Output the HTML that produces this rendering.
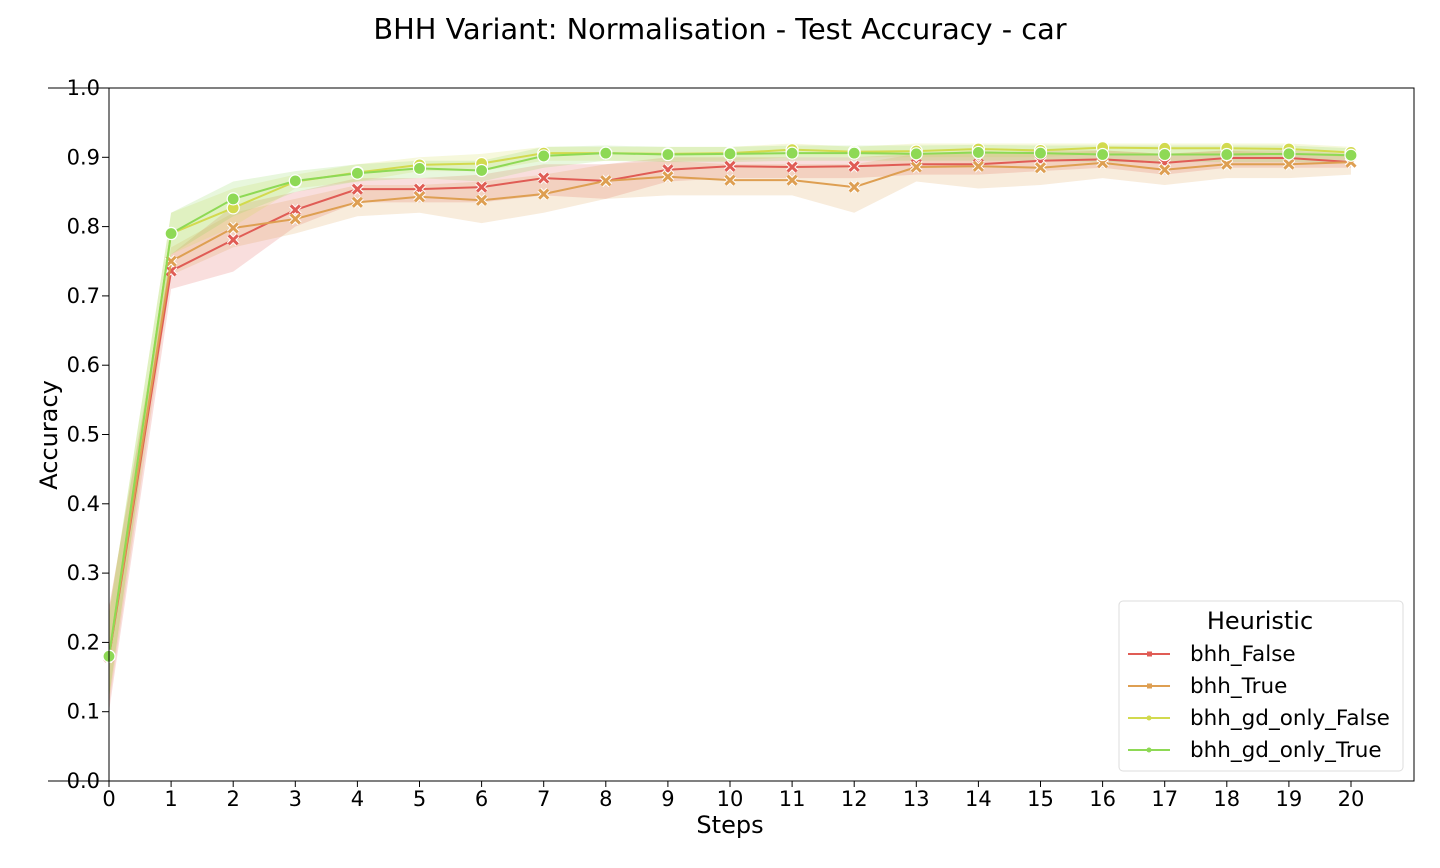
<!DOCTYPE html>
<html><head><meta charset="utf-8"><style>
body{margin:0;background:#fff;font-family:"DejaVu Sans",sans-serif}
svg text{font-family:"DejaVu Sans",sans-serif}
</style></head><body>
<svg id="c" width="1440" height="864"></svg>
<script>
const steps=[0,1,2,3,4,5,6,7,8,9,10,11,12,13,14,15,16,17,18,19,20];
const yTicks=[0,0.1,0.2,0.3,0.4,0.5,0.6,0.7,0.8,0.9,1.0];
const seriesNames=["bhh_False","bhh_True","bhh_gd_only_False","bhh_gd_only_True"];
const bhhFalse=[0.179,0.736,0.781,0.824,0.854,0.854,0.857,0.870,0.866,0.882,0.887,0.886,0.887,0.890,0.890,0.895,0.897,0.892,0.899,0.899,0.893];
const bhhFalseLo=[0.10,0.71,0.735,0.80,0.835,0.835,0.835,0.845,0.84,0.865,0.87,0.87,0.87,0.875,0.875,0.88,0.885,0.875,0.885,0.885,0.885];
const bhhFalseHi=[0.25,0.76,0.83,0.85,0.87,0.87,0.875,0.89,0.89,0.90,0.90,0.90,0.90,0.905,0.905,0.91,0.91,0.905,0.91,0.91,0.905];
const bhhTrue=[0.18,0.750,0.798,0.811,0.835,0.843,0.838,0.847,0.866,0.872,0.867,0.867,0.857,0.886,0.887,0.885,0.892,0.882,0.890,0.890,0.893];
const bhhTrueLo=[0.11,0.73,0.77,0.79,0.815,0.82,0.805,0.82,0.84,0.845,0.845,0.845,0.82,0.865,0.855,0.86,0.87,0.86,0.87,0.87,0.875];
const bhhTrueHi=[0.25,0.77,0.82,0.84,0.86,0.86,0.865,0.875,0.89,0.895,0.89,0.89,0.89,0.905,0.91,0.905,0.91,0.905,0.91,0.905,0.905];
const gdFalse=[0.18,0.79,0.827,0.865,0.878,0.889,0.891,0.906,0.906,0.905,0.906,0.911,0.908,0.909,0.912,0.910,0.914,0.913,0.913,0.912,0.907];
const gdFalseLo=[0.12,0.76,0.80,0.855,0.865,0.88,0.88,0.895,0.895,0.895,0.895,0.9,0.9,0.9,0.9,0.9,0.905,0.905,0.905,0.905,0.9];
const gdFalseHi=[0.24,0.82,0.855,0.875,0.89,0.9,0.905,0.915,0.915,0.915,0.915,0.92,0.915,0.92,0.92,0.92,0.92,0.92,0.92,0.92,0.915];
const gdTrue=[0.18,0.79,0.84,0.866,0.877,0.884,0.881,0.902,0.906,0.904,0.905,0.906,0.906,0.905,0.907,0.906,0.904,0.904,0.904,0.905,0.903];
const gdTrueLo=[0.12,0.76,0.815,0.85,0.865,0.87,0.865,0.885,0.895,0.893,0.893,0.895,0.895,0.895,0.895,0.895,0.893,0.893,0.893,0.893,0.893];
const gdTrueHi=[0.24,0.82,0.865,0.88,0.89,0.895,0.895,0.915,0.917,0.915,0.915,0.917,0.917,0.917,0.918,0.917,0.917,0.917,0.917,0.917,0.913];

const NS="http://www.w3.org/2000/svg";
const svg=document.getElementById('c');
const L=109,R=1414,T=88,B=781;
const X=s=>L+(1351-L)*s/20;
const Y=v=>B-(B-T)*v;
function el(tag,attrs,parent){const e=document.createElementNS(NS,tag);for(const k in attrs)e.setAttribute(k,attrs[k]);(parent||svg).appendChild(e);return e;}

const t=el('text',{x:720,y:39,'text-anchor':'middle','font-size':28.8,fill:'#000'});
t.textContent='BHH Variant: Normalisation - Test Accuracy - car';



const series=[
 {name:seriesNames[0],v:bhhFalse,lo:bhhFalseLo,hi:bhhFalseHi,c:'#e05c55',m:'x'},
 {name:seriesNames[1],v:bhhTrue,lo:bhhTrueLo,hi:bhhTrueHi,c:'#de9f52',m:'x'},
 {name:seriesNames[2],v:gdFalse,lo:gdFalseLo,hi:gdFalseHi,c:'#d2da4e',m:'o'},
 {name:seriesNames[3],v:gdTrue,lo:gdTrueLo,hi:gdTrueHi,c:'#8ed955',m:'o'}];

series.forEach((s,i)=>{
  let d='M'+steps.map((x,j)=>X(x)+','+Y(s.hi[j])).join(' L');
  d+=' L'+steps.slice().reverse().map((x)=>X(x)+','+Y(s.lo[x])).join(' L')+'Z';
  const p=el('path',{d,fill:s.c,'fill-opacity':0.2,stroke:'none'});
  
  
});
function marker(g,x,y,s){
  if(s.m==='o'){el('circle',{cx:x,cy:y,r:6,fill:s.c,stroke:'#fff','stroke-width':1.2},g);}
  else{const r=4.5;el('path',{d:`M${x-r},${y-r}L${x+r},${y+r}M${x-r},${y+r}L${x+r},${y-r}`,stroke:'#fff','stroke-width':5},g);
  el('path',{d:`M${x-r},${y-r}L${x+r},${y+r}M${x-r},${y+r}L${x+r},${y-r}`,stroke:s.c,'stroke-width':3},g);}
}
series.forEach(s=>{
  const g=el('g',{});
  
  
  el('polyline',{points:steps.map((x,j)=>X(x)+','+Y(s.v[j])).join(' '),fill:'none',stroke:s.c,'stroke-width':2},g);
  steps.forEach((x,j)=>marker(g,X(x),Y(s.v[j]),s));
});

el('rect',{x:L,y:T,width:R-L,height:B-T,fill:'none',stroke:'#000','stroke-width':1});
yTicks.forEach(v=>{
  el('line',{x1:(v===0||v===1)?48:102,x2:L,y1:Y(v),y2:Y(v),stroke:'#000'});
  const tx=el('text',{x:100,y:Y(v)+7,'text-anchor':'end','font-size':21});
  tx.textContent=v.toFixed(1);
  
  
});
steps.forEach(s=>{
  el('line',{x1:X(s),x2:X(s),y1:B,y2:B+6,stroke:'#000'});
  const tx=el('text',{x:X(s),y:B+25,'text-anchor':'middle','font-size':21});
  tx.textContent=s;
  
  
});
const xl=el('text',{x:730,y:833,'text-anchor':'middle','font-size':24});xl.textContent='Steps';


const yl=el('text',{x:0,y:0,'text-anchor':'middle','font-size':24,transform:'translate(57,435) rotate(-90)'});yl.textContent='Accuracy';



const lg=el('g',{});


el('rect',{x:1119,y:601,width:284,height:170,rx:4,fill:'#fff','fill-opacity':0.85,stroke:'#ddd'},lg);
const lt=el('text',{x:1260,y:629,'text-anchor':'middle','font-size':24},lg);lt.textContent='Heuristic';
series.forEach((s,i)=>{
  const y=654+i*32;
  const ge=el('g',{},lg);
  
  
  el('line',{x1:1128,x2:1170,y1:y,y2:y,stroke:s.c,'stroke-width':2},ge);
  if(s.m==='o')el('circle',{cx:1149,cy:y,r:2.5,fill:s.c},ge);
  else el('rect',{x:1147,y:y-2.5,width:5,height:5,fill:s.c},ge);
  const tx=el('text',{x:1190,y:y+7,'font-size':21.5},ge);tx.textContent=s.name;
});
</script>
</body></html>
